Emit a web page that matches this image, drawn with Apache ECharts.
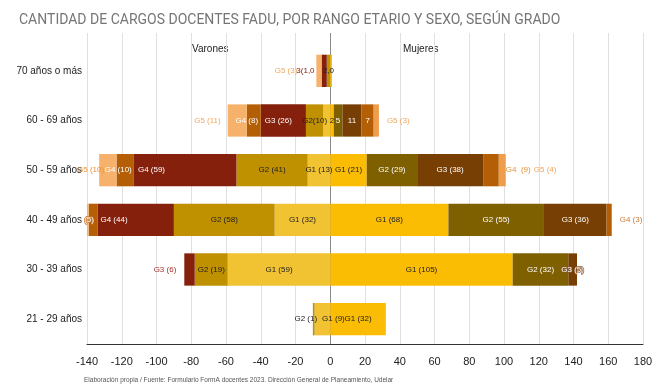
<!DOCTYPE html>
<html><head><meta charset="utf-8">
<script src="https://cdn.jsdelivr.net/npm/echarts@6/dist/echarts.min.js"></script>
<style>html,body{margin:0;padding:0;background:#fff}#c{width:663px;height:391px}</style>
</head><body><div id="c"></div>
<script>
// ---- data ----
const categories = ['70 años o más', '60 - 69 años', '50 - 59 años', '40 - 49 años', '30 - 39 años', '21 - 29 años'];
const xMin = -140, xMax = 180, xStep = 20;

const varonesG1 = [0, 4, 13, 32, 59, 9];
const varonesG2 = [2, 10, 41, 58, 19, 1];
const varonesG3 = [3, 26, 59, 44, 6, 0];
const varonesG4 = [0, 8, 10, 5, 0, 0];
const varonesG5 = [3, 11, 10, 1, 0, 0];
const mujeresG1 = [1, 2, 21, 68, 105, 32];
const mujeresG2 = [0, 5, 29, 55, 32, 0];
const mujeresG3 = [0, 11, 38, 36, 5, 0];
const mujeresG4 = [0, 7, 9, 3, 0, 0];
const mujeresG5 = [0, 3, 4, 0, 0, 0];

const varonesG1Labels = ['', '', 'G1 (13)', 'G1 (32)', 'G1 (59)', 'G1 (9)'];
const varonesG2Labels = ['2,0', 'G2(10)', 'G2 (41)', 'G2 (58)', 'G2 (19)', 'G2 (1)'];
const varonesG3Labels = ['3(1,0', 'G3 (26)', 'G4 (59)', 'G4 (44)', 'G3 (6)', ''];
const varonesG4Labels = ['', 'G4 (8)', 'G4 (10)', '(5)', '', ''];
const varonesG5Labels = ['G5 (3)', 'G5 (11)', 'G5 (10)', '', '', ''];
const mujeresG1Labels = ['', '2', 'G1 (21)', 'G1 (68)', 'G1 (105)', 'G1 (32)'];
const mujeresG2Labels = ['', '5', 'G2 (29)', 'G2 (55)', 'G2 (32)', ''];
const mujeresG3Labels = ['', '11', 'G3 (38)', 'G3 (36)', 'G3 (5)', ''];
const mujeresG4Labels = ['', '7', 'G4  (9)', 'G4 (3)', '', ''];
const mujeresG5Labels = ['', 'G5 (3)', 'G5 (4)', '', '', ''];

// ---- styling ----
const DARK = '#222', LIGHT = '#fff';
const FONT = 'Arial, "Liberation Sans", sans-serif';

function makeSeries(name, values, labels, sign, color, labelColor, overrides) {
  return {
    name: name, type: 'bar', stack: 'total', barWidth: '65%', clip: false,
    itemStyle: { color: color },
    label: { show: true, position: 'inside', color: labelColor, fontSize: 8, fontFamily: FONT, overflow: 'none' },
    emphasis: { disabled: true },
    data: values.map(function (v, i) {
      const lbl = Object.assign({ show: labels[i] !== '', formatter: labels[i] }, (overrides && overrides[i]) || {});
      return { value: sign * v, label: lbl };
    })
  };
}

const series = [
  makeSeries('Varones G1', varonesG1, varonesG1Labels, -1, '#F1C232', DARK, { 5: { offset: [11, 0] } }),
  makeSeries('Varones G2', varonesG2, varonesG2Labels, -1, '#BF9000', DARK, { 5: { offset: [-8, 0] } }),
  makeSeries('Varones G3', varonesG3, varonesG3Labels, -1, '#85200C', LIGHT, {
    0: { position: 'left', distance: 7, color: '#85200C' },
    1: { position: 'insideLeft', distance: 4 },
    2: { position: 'insideLeft', distance: 4 },
    3: { position: 'insideLeft', distance: 3 },
    4: { position: 'left', distance: 8, color: '#A8332A' }
  }),
  makeSeries('Varones G4', varonesG4, varonesG4Labels, -1, '#B45F06', LIGHT, {
    1: { offset: [-7, 0] }, 2: { offset: [-7, 0] },
    3: { offset: [-4, 0], textBorderColor: '#C8752A', textBorderWidth: 1.5 }
  }),
  makeSeries('Varones G5', varonesG5, varonesG5Labels, -1, '#F6B26B', LIGHT, {
    0: { position: 'left', distance: 19, color: '#F0A860' },
    1: { position: 'left', distance: 7, color: '#F0A860' },
    2: { position: 'left', distance: -5, color: '#E69138' }
  }),
  makeSeries('Mujeres G1', mujeresG1, mujeresG1Labels, 1, '#FBBC04', DARK, null),
  makeSeries('Mujeres G2', mujeresG2, mujeresG2Labels, 1, '#7F6000', LIGHT, null),
  makeSeries('Mujeres G3', mujeresG3, mujeresG3Labels, 1, '#783F04', LIGHT, {
    4: { textBorderColor: '#8a5a30', textBorderWidth: 1.5 }
  }),
  makeSeries('Mujeres G4', mujeresG4, mujeresG4Labels, 1, '#B45F06', LIGHT, {
    2: { position: 'right', distance: 7, color: '#E69138' },
    3: { position: 'right', distance: 8, color: '#CC7A33' }
  }),
  makeSeries('Mujeres G5', mujeresG5, mujeresG5Labels, 1, '#EE9D4C', LIGHT, {
    1: { position: 'right', distance: 8, color: '#F0A860' },
    2: { position: 'right', distance: 28, color: '#EFA35A' }
  })
];

const tickCount = Math.round((xMax - xMin) / xStep) + 1;
const zeroIndex = Math.round((0 - xMin) / xStep);
const splitColors = [];
for (let i = 0; i < tickCount; i++) splitColors.push(i === zeroIndex ? '#8a8a8a' : '#e0e0e0');

const chart = echarts.init(document.getElementById('c'), null, { renderer: 'canvas' });
chart.setOption({
  animation: false,
  backgroundColor: '#fff',
  title: {
    text: 'CANTIDAD DE CARGOS DOCENTES FADU, POR RANGO ETARIO Y SEXO, SEGÚN GRADO',
    left: 14, top: 8,
    textStyle: { color: '#757575', fontSize: 14, fontWeight: 'normal', fontFamily: 'Roboto, Arial, sans-serif' }
  },
  grid: [
    { left: 87, right: 20, top: 46, bottom: 47, containLabel: false },
    { left: 87, right: 20, top: 33, height: 13, containLabel: false }
  ],
  xAxis: [
    {
      type: 'value', gridIndex: 0, min: xMin, max: xMax, interval: xStep,
      axisLine: { show: true, lineStyle: { color: '#333', width: 1 } },
      axisTick: { show: false },
      axisLabel: { color: DARK, fontSize: 11, fontFamily: FONT, margin: 12 },
      splitLine: { show: true, lineStyle: { color: splitColors, width: 1 } }
    },
    {
      type: 'value', gridIndex: 1, min: xMin, max: xMax, interval: xStep,
      axisLine: { show: false }, axisTick: { show: false }, axisLabel: { show: false },
      splitLine: { show: true, lineStyle: { color: splitColors, width: 1 } }
    }
  ],
  yAxis: [
    {
      type: 'category', gridIndex: 0, data: categories, inverse: true,
      axisLine: { show: false }, axisTick: { show: false },
      axisLabel: { color: DARK, fontSize: 10, fontFamily: FONT, margin: 5 }
    },
    { type: 'value', gridIndex: 1, show: false, min: 0, max: 1 }
  ],
  graphic: [
    { type: 'text', left: 192, top: 44, style: { text: 'Varones', fill: DARK, font: '10px ' + FONT } },
    { type: 'text', left: 403, top: 44, style: { text: 'Mujeres', fill: DARK, font: '10px ' + FONT } },
    { type: 'text', left: 84, top: 377, style: { text: 'Elaboración propia / Fuente: Formulario FormA docentes 2023. Dirección General de Planeamiento, Udelar', fill: '#555', font: '6.5px ' + FONT } }
  ],
  series: series
});
</script>
</body></html>
